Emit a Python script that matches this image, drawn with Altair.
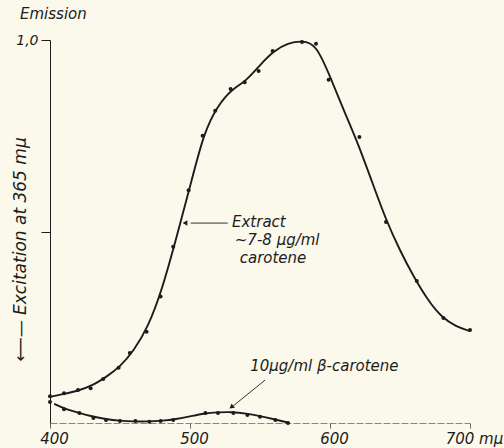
import altair as alt
import pandas as pd

# ---- data ----
# Extract curve (smooth line)
ext_curve_x = [400, 410, 420, 430, 440, 450, 460, 470, 480, 490, 500, 510, 520, 530,
               540, 550, 560, 570, 580, 590, 600, 610, 620, 630, 640, 650, 660, 670,
               680, 690, 700]
ext_curve_y = [0.068, 0.076, 0.084, 0.097, 0.12, 0.146, 0.19, 0.25, 0.347, 0.48, 0.616,
               0.76, 0.83, 0.872, 0.892, 0.935, 0.972, 0.992, 0.998, 0.99, 0.905, 0.815,
               0.73, 0.63, 0.53, 0.45, 0.38, 0.32, 0.275, 0.252, 0.24]
# Extract measured points
ext_pts_x = [400, 410, 420, 429, 438, 449, 457, 469, 479, 488, 499, 509, 518, 529, 539,
             549, 559, 580, 590, 599, 621, 640, 662, 681, 700]
ext_pts_y = [0.07, 0.078, 0.086, 0.091, 0.115, 0.144, 0.183, 0.238, 0.33, 0.46, 0.608,
             0.75, 0.815, 0.872, 0.89, 0.919, 0.971, 0.995, 0.99, 0.896, 0.747, 0.525,
             0.371, 0.274, 0.243]
# beta-carotene curve (smooth line)
bc_curve_x = [403, 410, 420, 430, 440, 450, 460, 470, 480, 490, 500, 510, 520, 530, 540,
              550, 560, 570]
bc_curve_y = [0.05, 0.038, 0.027, 0.017, 0.01, 0.006, 0.004, 0.004, 0.006, 0.01, 0.017,
              0.025, 0.028, 0.029, 0.025, 0.018, 0.01, 0.001]
# beta-carotene measured points
bc_pts_x = [400, 410, 421, 431, 440, 450, 461, 471, 479, 488, 511, 520, 531, 541, 550,
            561, 570]
bc_pts_y = [0.055, 0.036, 0.026, 0.013, 0.008, 0.005, 0.005, 0.003, 0.005, 0.008, 0.026,
            0.026, 0.026, 0.021, 0.016, 0.008, 0.0]

x_ticks = [400, 500, 600, 700]
y_ticks = [0.5, 1.0]

# annotations
ann_text = ["Extract", "~7-8 μg/ml", "carotene", "10μg/ml  β-carotene"]
ann_x = [530, 532, 535.5, 543]
ann_y = [0.525, 0.477, 0.432, 0.149]
arrow_x = [500.5, 553.6]
arrow_x2 = [527, 531]
arrow_y = [0.522, 0.112]
arrow_y2 = [0.522, 0.045]
head_x = [497, 530]
head_y = [0.522, 0.043]
head_angle = [270, 232]

FONT = "DejaVu Sans"
INK = "#1c1c1c"
BG = "#fbf8ec"

curve = pd.concat([
    pd.DataFrame({"wl": ext_curve_x, "v": ext_curve_y, "s": "Extract"}),
    pd.DataFrame({"wl": bc_curve_x, "v": bc_curve_y, "s": "beta"}),
])
pts = pd.concat([
    pd.DataFrame({"wl": ext_pts_x, "v": ext_pts_y, "s": "Extract"}),
    pd.DataFrame({"wl": bc_pts_x, "v": bc_pts_y, "s": "beta"}),
])
ann = pd.DataFrame({"t": ann_text, "x": ann_x, "y": ann_y})
arrows = pd.DataFrame({"x": arrow_x, "x2": arrow_x2, "y": arrow_y, "y2": arrow_y2})
heads = pd.DataFrame({"x": head_x, "y": head_y, "a": head_angle})

xs = alt.Scale(domain=[400, 700], nice=False, zero=False)
ys = alt.Scale(domain=[0, 1], nice=False)

x_axis = alt.Axis(values=x_ticks, grid=False, title=None,
                  labelExpr="datum.value == 700 ? '700 mμ' : datum.label",
                  labelFont=FONT, labelFontStyle="italic", labelFontSize=15,
                  labelColor=INK, labelOffset=4, labelPadding=3,
                  domainColor="#888", domainDash=[7, 2], tickColor="#666", tickSize=5,
                  labelFlush=False)
y_axis = alt.Axis(values=y_ticks, grid=False,
                  title="⟵—  Excitation at 365 mμ",
                  titleAngle=270, titleX=-30, titleY=209, titleAlign="center",
                  titleBaseline="middle", titleFont=FONT, titleFontStyle="italic",
                  titleFontWeight="normal", titleFontSize=17, titleColor=INK,
                  labelExpr="datum.value == 1 ? '1,0' : ''",
                  labelFont=FONT, labelFontStyle="italic", labelFontSize=14,
                  labelColor=INK, labelPadding=3,
                  domainColor=INK, tickColor=INK, tickSize=9)

base_x = alt.X("wl:Q", scale=xs, axis=x_axis)
base_y = alt.Y("v:Q", scale=ys, axis=y_axis)

lines = alt.Chart(curve).mark_line(color=INK, strokeWidth=1.9, interpolate="basis").encode(
    x=base_x, y=base_y, detail="s:N")
dots = alt.Chart(pts).mark_circle(color=INK, size=16, opacity=1).encode(
    x=alt.X("wl:Q", scale=xs), y=alt.Y("v:Q", scale=ys))
texts = alt.Chart(ann).mark_text(font=FONT, fontStyle="italic", fontSize=15, color=INK,
                                 align="left", baseline="middle").encode(
    x=alt.X("x:Q", scale=xs), y=alt.Y("y:Q", scale=ys), text="t:N")
arrow_lines = alt.Chart(arrows).mark_rule(color="#333", strokeWidth=1).encode(
    x=alt.X("x:Q", scale=xs), x2="x2:Q", y=alt.Y("y:Q", scale=ys), y2="y2:Q")
arrow_heads = alt.Chart(heads).mark_point(shape="triangle", filled=True, color=INK,
                                          size=30, opacity=1).encode(
    x=alt.X("x:Q", scale=xs), y=alt.Y("y:Q", scale=ys), angle=alt.Angle("a:Q", scale=None))

chart = alt.layer(lines, dots, arrow_lines, arrow_heads, texts).properties(
    width=420, height=383,
    autosize=alt.AutoSizeParams(type="none"),
    padding={"left": 50, "top": 40, "right": 34, "bottom": 25},
    background=BG,
    title=alt.TitleParams("Emission", anchor="start", frame="group", dx=-30, dy=-1,
                          font=FONT, fontStyle="italic", fontWeight="normal",
                          fontSize=15, color=INK, offset=10),
).configure_view(stroke=None)

chart.save("out.html", embed_options={"renderer": "svg", "actions": False})
